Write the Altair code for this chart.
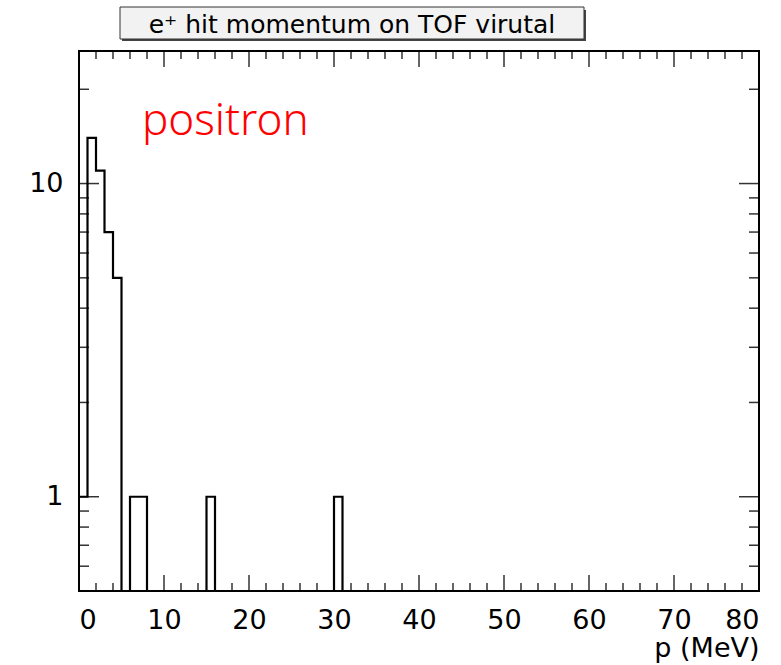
import altair as alt
import pandas as pd

# histogram: bin edges (MeV) and counts
bin_lo = list(range(0, 80))
counts = [0] * 80
counts[0] = 1
counts[1] = 14
counts[2] = 11
counts[3] = 7
counts[4] = 5
counts[6] = 1
counts[7] = 1
counts[15] = 1
counts[30] = 1
bin_width = 1

x_major = [0, 10, 20, 30, 40, 50, 60, 70, 80]
x_minor = [v for v in range(0, 81, 2) if v % 10 != 0]
y_major = [1, 10]
y_minor = [0.6, 0.7, 0.8, 0.9, 2, 3, 4, 5, 6, 7, 8, 9, 20]

title_text = "e\u207a hit momentum on TOF virutal"
annot_text = "positron"
annot_x = [7.4]
annot_y = [14.3]

W, H = 680, 540

rows = []
for i, (lo, c) in enumerate(zip(bin_lo, counts)):
    rows.append({"p": lo, "n": c, "o": 2 * i})
    rows.append({"p": lo + bin_width, "n": c, "o": 2 * i + 1})
hist = pd.DataFrame(rows)

xs = alt.Scale(domain=[0, 80], nice=False, zero=False)
ys = alt.Scale(type="log", domain=[0.5, 26.5], nice=False, clamp=True)

base_x = alt.X("p:Q", scale=xs,
               axis=alt.Axis(values=x_major, format="d", labelFontSize=27, labelFont="DejaVu Sans",
                             labelColor="black", tickSize=0, domain=False, grid=False,
                             labelPadding=16, title="p (MeV)", titleFont="DejaVu Sans",
                             titleFontSize=27, titleFontWeight="normal", titleColor="black",
                             titleAnchor="end", titleAlign="right", titlePadding=2))
base_y = alt.Y("v:Q", scale=ys,
               axis=alt.Axis(values=y_major, format="d", labelFontSize=27, labelFont="DejaVu Sans",
                             labelColor="black", tickSize=0, domain=False, grid=False,
                             labelPadding=16, title=None))

line = alt.Chart(hist).transform_calculate(
    v="datum.n > 0 ? datum.n : 0.01"
).mark_line(color="black", strokeWidth=2.2, clip=True, interpolate="linear").encode(
    x=base_x, y=base_y, order="o:Q")

tick_color = "#333333"
def xticks(vals, length):
    df = pd.DataFrame({"p": vals})
    b = alt.Chart(df).mark_rule(color=tick_color, strokeWidth=1.5).encode(
        x=alt.X("p:Q", scale=xs), y=alt.value(H), y2=alt.value(H - length))
    t = alt.Chart(df).mark_rule(color=tick_color, strokeWidth=1.5).encode(
        x=alt.X("p:Q", scale=xs), y=alt.value(0), y2=alt.value(length))
    return b + t

def yticks(vals, length):
    df = pd.DataFrame({"v": vals})
    l = alt.Chart(df).mark_rule(color=tick_color, strokeWidth=1.5).encode(
        y=alt.Y("v:Q", scale=ys), x=alt.value(0), x2=alt.value(length))
    r = alt.Chart(df).mark_rule(color=tick_color, strokeWidth=1.5).encode(
        y=alt.Y("v:Q", scale=ys), x=alt.value(W), x2=alt.value(W - length))
    return l + r

annot = alt.Chart(pd.DataFrame({"p": annot_x, "v": annot_y, "t": [annot_text]})).mark_text(
    align="left", baseline="alphabetic", fontSize=44, font="Noto Sans", fontWeight=300,
    color="#ff0000").encode(x=alt.X("p:Q", scale=xs), y=alt.Y("v:Q", scale=ys), text="t:N")

tdf = pd.DataFrame({"t": [title_text]})
shadow = alt.Chart(tdf).mark_rect(color="#444444", clip=False).encode(
    x=alt.value(43), x2=alt.value(507), y=alt.value(-41), y2=alt.value(-10))
box = alt.Chart(tdf).mark_rect(fill="#f2f2f2", stroke="#333333", strokeWidth=1, clip=False).encode(
    x=alt.value(41), x2=alt.value(505), y=alt.value(-44), y2=alt.value(-12))
ttext = alt.Chart(tdf).mark_text(fontSize=25, font="DejaVu Sans", color="black",
                                 baseline="alphabetic", align="center").encode(
    x=alt.value(273), y=alt.value(-18), text="t:N")

frame = alt.Chart(tdf).mark_rect(fill=None, stroke="black", strokeWidth=2, clip=False).encode(
    x=alt.value(0), x2=alt.value(W), y=alt.value(0), y2=alt.value(H))

chart = alt.layer(
    xticks(x_major, 16), xticks(x_minor, 8), yticks(y_major, 20), yticks(y_minor, 10),
    line, frame, annot, shadow, box, ttext
).properties(
    width=W, height=H,
    background="white",
    autosize=alt.AutoSizeParams(type="none"),
    padding={"left": 79, "top": 51, "right": 22, "bottom": 74},
).configure_view(stroke=None)

chart.save("out.html", embed_options={"renderer": "svg", "actions": False})
